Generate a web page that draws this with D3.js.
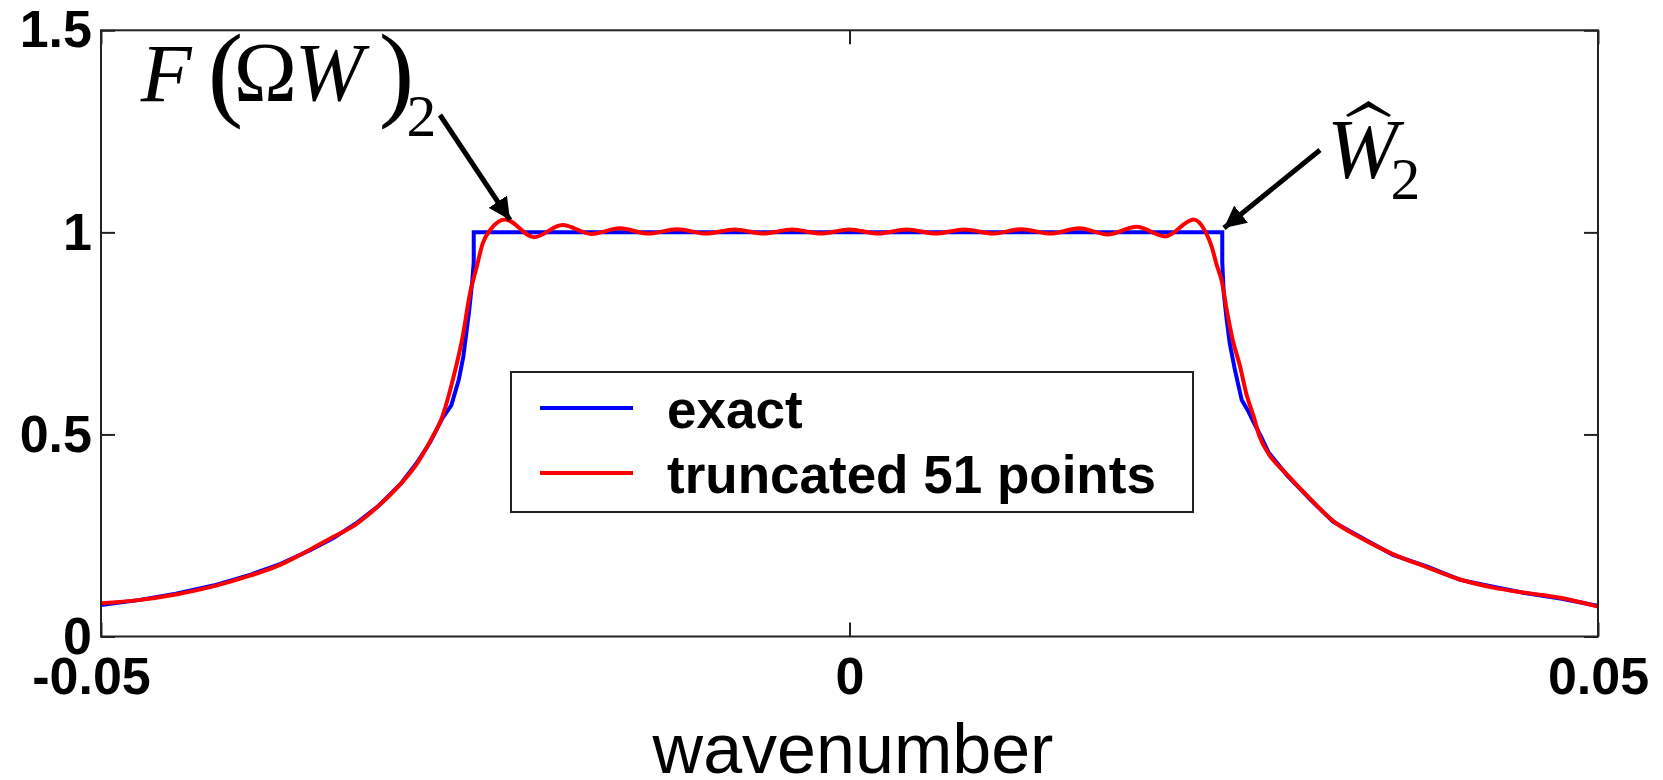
<!DOCTYPE html>
<html>
<head>
<meta charset="utf-8">
<script src="https://cdn.jsdelivr.net/npm/d3@7"></script>
<style>
  html, body { margin: 0; padding: 0; background: #fff; }
  svg { display: block; }
</style>
</head>
<body>
<svg id="chart" width="1663" height="780"></svg>
<script>
// Axis ranges and tick labels
const xDomain = [-0.05, 0.05];
const yDomain = [0, 1.5];
const xTicks = [-0.05, 0, 0.05];
const xTickLabels = ["-0.05", "0", "0.05"];
const yTicks = [0, 0.5, 1, 1.5];
const yTickLabels = ["0", "0.5", "1", "1.5"];

// Legend entries
const seriesNames = ["exact", "truncated 51 points"];
const seriesColors = ["#0000ff", "#ff0000"];

// Exact response versus wavenumber
const exactK = [-0.05, -0.0475, -0.045, -0.0425, -0.04, -0.038, -0.036, -0.0345, -0.033, -0.0315,
  -0.03, -0.0289, -0.028, -0.0272, -0.0266, -0.0261, -0.0258, -0.0256, -0.0254, -0.0252,
  -0.0251, -0.0251, 0.0249, 0.0249, 0.025, 0.0252, 0.0254, 0.02575, 0.0262, 0.0266,
  0.027, 0.0275, 0.028, 0.0292, 0.0308, 0.0323, 0.0341, 0.0363, 0.0386, 0.0408,
  0.043, 0.0452, 0.0475, 0.0497, 0.05];
const exactVal = [0.078, 0.090, 0.106, 0.126, 0.153, 0.180, 0.214, 0.243, 0.279, 0.322,
  0.377, 0.430, 0.482, 0.540, 0.572, 0.635, 0.692, 0.750, 0.808, 0.880,
  0.927, 1.000, 1.000, 0.927, 0.849, 0.783, 0.725, 0.659, 0.585, 0.560,
  0.530, 0.494, 0.455, 0.400, 0.338, 0.284, 0.247, 0.202, 0.173, 0.140,
  0.123, 0.107, 0.094, 0.078, 0.076];

// Response of the filter truncated to 51 points
const truncK = [-0.05, -0.0475, -0.045, -0.0425, -0.04, -0.038, -0.036, -0.0345, -0.033, -0.0315,
  -0.03, -0.0289, -0.028, -0.0272, -0.0265, -0.0258, -0.0254, -0.0249, -0.0245, -0.024,
  -0.023, -0.02108, -0.01917, -0.01725, -0.01533, -0.01342, -0.0115, -0.00958, -0.00767, -0.00575,
  -0.00383, -0.00192, 0, 0.00192, 0.00383, 0.00575, 0.00767, 0.00958, 0.0115, 0.01342,
  0.01533, 0.01725, 0.01917, 0.02108, 0.023, 0.0238, 0.0242, 0.0245, 0.0249, 0.0252,
  0.0256, 0.0261, 0.0265, 0.027, 0.0274, 0.028, 0.0292, 0.0308, 0.0323, 0.0341,
  0.0363, 0.0386, 0.0408, 0.043, 0.0452, 0.0475, 0.05];
const truncVal = [0.082, 0.090, 0.104, 0.124, 0.151, 0.178, 0.216, 0.246, 0.277, 0.322,
  0.377, 0.427, 0.484, 0.544, 0.635, 0.750, 0.840, 0.915, 0.973, 1.006,
  1.032, 0.988, 1.018, 0.996, 1.010, 0.997, 1.008, 0.997, 1.007, 0.997,
  1.007, 0.997, 1.007, 0.997, 1.007, 0.997, 1.007, 0.997, 1.008, 0.997,
  1.010, 0.995, 1.014, 0.990, 1.032, 1.000, 0.964, 0.923, 0.874, 0.808,
  0.734, 0.667, 0.602, 0.544, 0.494, 0.452, 0.402, 0.340, 0.286, 0.245,
  0.204, 0.171, 0.141, 0.121, 0.108, 0.096, 0.074];

const plot = { left: 101, right: 1598, top: 30.3, bottom: 636.5 };
const tickLen = 14;
const sans = "'Liberation Sans', Arial, Helvetica, sans-serif";
const serif = "'Liberation Serif', 'Times New Roman', Times, serif";

const svg = d3.select("#chart");

const x = d3.scaleLinear().domain(xDomain).range([plot.left, plot.right]);
const y = d3.scaleLinear().domain(yDomain).range([plot.bottom, plot.top]);

// Curves
const exactData = exactK.map((k, i) => [k, exactVal[i]]);
const truncData = truncK.map((k, i) => [k, truncVal[i]]);

const lineLinear = d3.line().x(d => x(d[0])).y(d => y(d[1]));
const lineSmooth = d3.line().x(d => x(d[0])).y(d => y(d[1])).curve(d3.curveMonotoneX);

svg.append("path").datum(exactData)
  .attr("d", lineLinear)
  .attr("fill", "none").attr("stroke", seriesColors[0])
  .attr("stroke-width", 4).attr("stroke-linejoin", "miter");

svg.append("path").datum(truncData)
  .attr("d", lineSmooth)
  .attr("fill", "none").attr("stroke", seriesColors[1])
  .attr("stroke-width", 4).attr("stroke-linejoin", "round");

// Axes: ticks point inward on all four sides, frame drawn separately
function styleAxis(g) {
  g.select(".domain").remove();
  g.selectAll(".tick line").attr("stroke", "#222").attr("stroke-width", 2);
  g.selectAll(".tick text")
    .attr("fill", "#000")
    .style("font-family", sans)
    .style("font-weight", "bold")
    .style("font-size", "52px");
}

svg.append("g")
  .attr("transform", `translate(${plot.left},0)`)
  .call(d3.axisLeft(y).tickValues(yTicks).tickSize(-tickLen).tickPadding(9)
    .tickFormat((d, i) => yTickLabels[i]))
  .call(styleAxis);

svg.append("g")
  .attr("transform", `translate(${plot.right},0)`)
  .call(d3.axisRight(y).tickValues(yTicks).tickSize(-tickLen).tickFormat(""))
  .call(styleAxis);

const xAxisG = svg.append("g")
  .attr("transform", `translate(0,${plot.bottom})`)
  .call(d3.axisBottom(x).tickValues(xTicks).tickSize(-tickLen).tickPadding(20.5)
    .tickFormat((d, i) => xTickLabels[i]))
  .call(styleAxis);
xAxisG.selectAll(".tick text").attr("dx", d => d < 0 ? -10 : 0);

svg.append("g")
  .attr("transform", `translate(0,${plot.top})`)
  .call(d3.axisTop(x).tickValues(xTicks).tickSize(-tickLen).tickFormat(""))
  .call(styleAxis);

// Plot frame
svg.append("rect")
  .attr("x", plot.left).attr("y", plot.top)
  .attr("width", plot.right - plot.left).attr("height", plot.bottom - plot.top)
  .attr("fill", "none").attr("stroke", "#222").attr("stroke-width", 2);

// Axis title
svg.append("text")
  .attr("x", 853).attr("y", 773)
  .attr("text-anchor", "middle")
  .style("font-family", sans)
  .style("font-size", "70px")
  .attr("fill", "#000")
  .text("wavenumber");

// Legend
const legend = svg.append("g");
legend.append("rect")
  .attr("x", 511).attr("y", 372).attr("width", 682).attr("height", 140)
  .attr("fill", "#fff").attr("stroke", "#222").attr("stroke-width", 2);
const legendRows = [408, 473];
seriesNames.forEach((name, i) => {
  legend.append("line")
    .attr("x1", 540).attr("x2", 633)
    .attr("y1", legendRows[i]).attr("y2", legendRows[i])
    .attr("stroke", seriesColors[i]).attr("stroke-width", 4);
  legend.append("text")
    .attr("x", 667).attr("y", legendRows[i] + 20)
    .style("font-family", sans)
    .style("font-weight", "bold")
    .style("font-size", "53px")
    .attr("fill", "#000")
    .text(name);
});

// Math annotations: each glyph is sized so its inked box spans the given
// top/bottom and starts at the given left edge (measured with canvas metrics).
const ann = svg.append("g").attr("fill", "#000").style("font-family", serif);
const measureCtx = document.createElement("canvas").getContext("2d");

function glyph(str, italic, left, top, bottom) {
  const style = italic ? "italic" : "normal";
  measureCtx.font = `${style} 100px ${serif}`;
  const m = measureCtx.measureText(str);
  const inkH = m.actualBoundingBoxAscent + m.actualBoundingBoxDescent;
  const s = (bottom - top) / inkH;
  return ann.append("text")
    .attr("x", left + m.actualBoundingBoxLeft * s)
    .attr("y", top + m.actualBoundingBoxAscent * s)
    .style("font-size", (100 * s) + "px")
    .style("font-style", style)
    .text(str);
}

// F(ΩW)₂
glyph("F", true, 140, 47, 102);
glyph("(", false, 212, 32, 130);
glyph("Ω", false, 238, 45, 102);
glyph("W", true, 300, 47, 102);
glyph(")", false, 382, 32, 130);
glyph("2", false, 409, 97, 137);

// Ŵ₂ with a wide hat accent
glyph("W", true, 1332, 123, 180);
glyph("2", false, 1393, 160, 200);
ann.append("path")
  .attr("d", "M1346,115 L1368.5,101 L1391,115 L1389,117 L1368.5,107 L1348,117 Z")
  .attr("fill", "#000");

// Arrows
const defs = svg.append("defs");
defs.append("marker")
  .attr("id", "head")
  .attr("viewBox", "0 0 10 10")
  .attr("refX", 10).attr("refY", 5)
  .attr("markerUnits", "userSpaceOnUse")
  .attr("markerWidth", 22).attr("markerHeight", 22)
  .attr("orient", "auto")
  .append("path").attr("d", "M0,0 L10,5 L0,10 Z").attr("fill", "#000");

const arrows = [
  { x1: 440, y1: 115, x2: 510, y2: 220 },
  { x1: 1320, y1: 150, x2: 1224, y2: 228 }
];
arrows.forEach(a => {
  svg.append("line")
    .attr("x1", a.x1).attr("y1", a.y1).attr("x2", a.x2).attr("y2", a.y2)
    .attr("stroke", "#000").attr("stroke-width", 5)
    .attr("marker-end", "url(#head)");
});
</script>
</body>
</html>
